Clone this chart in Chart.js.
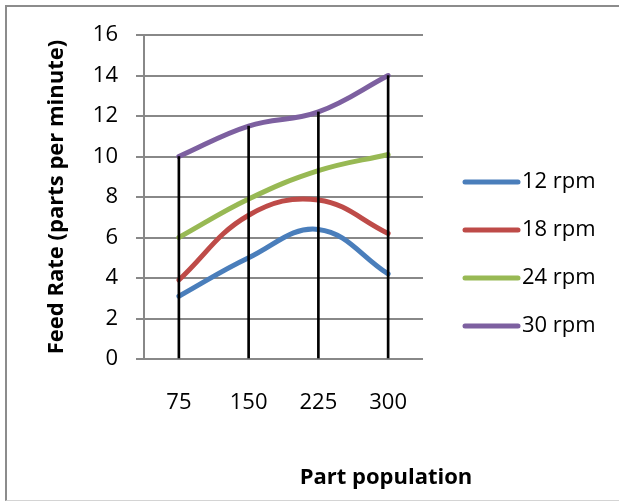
<!DOCTYPE html>
<html>
<head>
<meta charset="utf-8">
<script src="https://cdn.jsdelivr.net/npm/chart.js@4"></script>
<style>
  html, body { margin: 0; padding: 0; background: #fff; }
  #wrap { position: relative; width: 619px; height: 501px; overflow: hidden; }
  #frame {
    position: absolute; left: 5px; top: 5px; width: 700px; height: 493px;
    border-left: 2px solid #8c8c8c; border-top: 2px solid #8c8c8c;
    border-bottom: 1px solid #d4d4d4;
  }
  #myCanvas { position: absolute; left: 0; top: 0; }
</style>
</head>
<body>
<div id="wrap">
  <div id="frame"></div>
  <canvas id="myCanvas" width="619" height="501"></canvas>
</div>
<script>
const categories = ["75", "150", "225", "300"];
const seriesLabels = ["12 rpm", "18 rpm", "24 rpm", "30 rpm"];
const rpm12 = [3.1, 5.0, 6.4, 4.2];
const rpm18 = [3.9, 7.1, 7.85, 6.2];
const rpm24 = [6.0, 7.9, 9.3, 10.1];
const rpm30 = [10.0, 11.5, 12.2, 14.0];
const yTicks = [0, 2, 4, 6, 8, 10, 12, 14, 16];

const colors = ["#4a7ebb", "#be4b48", "#98b954", "#7d60a0"];
const allSeries = [rpm12, rpm18, rpm24, rpm30];

// drop lines go from 0 up to the highest series at each category
const dropLines = categories.map((_, i) => Math.max(...allSeries.map((s) => s[i])));

Chart.defaults.font.family = "'Open Sans', sans-serif";
Chart.defaults.color = "#000";

const lineSets = allSeries.map((values, i) => ({
  type: "line",
  label: seriesLabels[i],
  data: values,
  borderColor: colors[i],
  backgroundColor: colors[i],
  borderWidth: 5,
  borderCapStyle: "round",
  pointRadius: 0,
  tension: 0.4,
  fill: false,
  order: 1,
}));

const legendAndTitle = {
  id: "legendAndTitle",
  afterDraw(chart) {
    const ctx = chart.ctx;
    const area = chart.chartArea;
    ctx.save();
    chart.data.datasets
      .filter((ds) => ds.type === "line")
      .forEach((ds, i) => {
        const y = 182 + i * 48;
        ctx.strokeStyle = ds.borderColor;
        ctx.lineWidth = 5;
        ctx.lineCap = "round";
        ctx.beginPath();
        ctx.moveTo(area.right + 42, y);
        ctx.lineTo(area.right + 95, y);
        ctx.stroke();
        ctx.fillStyle = "#000";
        ctx.font = "22px 'Open Sans', sans-serif";
        ctx.textBaseline = "middle";
        ctx.textAlign = "left";
        ctx.fillText(ds.label, area.right + 99, y);
      });
    ctx.font = "bold 22px 'Open Sans', sans-serif";
    ctx.textAlign = "center";
    ctx.textBaseline = "middle";
    ctx.fillStyle = "#000";
    ctx.fillText("Part population", 386, 478);
    ctx.restore();
  },
};

const canvasId = document.getElementById("myCanvas");
new Chart(canvasId, {
  type: "line",
  data: {
    labels: categories,
    datasets: [
      ...lineSets,
      {
        type: "bar",
        label: "drop",
        data: dropLines,
        backgroundColor: "#000",
        borderWidth: 0,
        barThickness: 2,
        order: 0,
      },
    ],
  },
  options: {
    responsive: false,
    animation: false,
    layout: {
      padding: { top: 35, right: 196, bottom: 0, left: 0 },
    },
    plugins: {
      legend: { display: false },
      tooltip: { enabled: false },
    },
    scales: {
      x: {
        offset: true,
        grid: { display: false },
        border: { display: false },
        ticks: {
          padding: 23,
          font: { size: 22 },
        },
        afterFit: (scale) => {
          scale.height = 142;
        },
      },
      y: {
        min: 0,
        max: 16,
        afterBuildTicks: (scale) => {
          scale.ticks = yTicks.map((v) => ({ value: v }));
        },
        grid: {
          color: "#888",
          lineWidth: 2,
          tickLength: 8,
        },
        border: { color: "#888", width: 2 },
        ticks: {
          padding: 18,
          font: { size: 22 },
        },
        title: {
          display: true,
          text: "Feed Rate (parts per minute)",
          font: { size: 22, weight: "bold" },
          padding: { top: 44, bottom: 0 },
        },
        afterFit: (scale) => {
          scale.width = 144;
        },
      },
    },
  },
  plugins: [legendAndTitle],
});
</script>
</body>
</html>
